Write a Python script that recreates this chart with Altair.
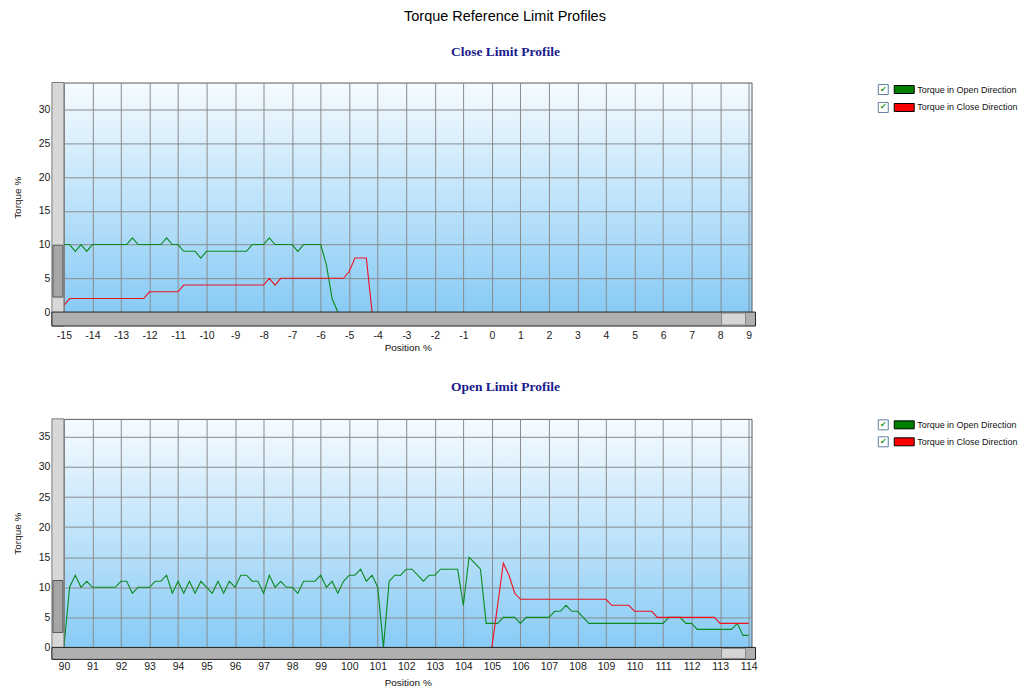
import altair as alt
import pandas as pd

# ---------------- data ----------------
series_names = ["Torque in Open Direction", "Torque in Close Direction"]
series_colors = ["#0a8a1e", "#f01020"]
swatch_colors = ["#008000", "#ff0000"]

# Close Limit Profile (positions sampled every 0.2 %)
close_open_start = -15.0
close_open_torque = [10, 10, 9, 10, 9, 10, 10, 10, 10, 10, 10, 10, 11, 10, 10, 10, 10, 10,
                     11, 10, 10, 9, 9, 9, 8, 9, 9, 9, 9, 9, 9, 9, 9, 10, 10, 10, 11, 10,
                     10, 10, 10, 9, 10, 10, 10, 10, 7, 2, 0]
close_close_start = -15.0
close_close_torque = [1, 2, 2, 2, 2, 2, 2, 2, 2, 2, 2, 2, 2, 2, 2, 3, 3, 3, 3, 3, 3,
                      4, 4, 4, 4, 4, 4, 4, 4, 4, 4, 4, 4, 4, 4, 4, 5, 4,
                      5, 5, 5, 5, 5, 5, 5, 5, 5, 5, 5, 5, 6, 8, 8, 8, 0]
close_xticks = list(range(-15, 10))
close_yticks = [0, 5, 10, 15, 20, 25, 30]

# Open Limit Profile
open_open_start = 90.0
open_open_torque = [0, 10, 12, 10, 11, 10, 10, 10, 10, 10, 11, 11, 9, 10, 10, 10, 11, 11, 12, 9,
                    11, 9, 11, 9, 11, 10, 9, 11, 9, 11, 10, 12, 12, 11, 11, 9, 12, 10, 11, 10,
                    10, 9, 11, 11, 11, 12, 10, 11, 9, 11, 12, 12, 13, 11, 12, 10, 0, 11, 12, 12,
                    13, 13, 12, 11, 12, 12, 13, 13, 13, 13, 7, 15, 14, 13, 4, 4, 4, 5, 5, 5,
                    4, 5, 5, 5, 5, 5, 6, 6, 7, 6, 6, 5, 4, 4, 4, 4, 4, 4, 4, 4, 4, 4, 4, 4, 4, 4,
                    5, 5, 5, 4, 4, 3, 3, 3, 3, 3, 3, 3, 4, 2, 2]
open_close_start = 105.0
open_close_torque = [0, 7, 14, 12, 9,
                     8, 8, 8, 8, 8, 8, 8, 8, 8, 8, 8, 8, 8, 8, 8, 8,
                     7, 7, 7, 7, 6, 6, 6, 6,
                     5, 5, 5, 5, 5, 5, 5, 5, 5, 5, 5,
                     4, 4, 4, 4, 4, 4]
open_xticks = list(range(90, 115))
open_yticks = [0, 5, 10, 15, 20, 25, 30, 35]

STEP = 0.2
W = 689

GRAD = ("{gradient: 'linear', x1: 0, y1: 0, x2: 0, y2: 1, "
        "stops: [{offset: 0, color: '#f6fbff'}, {offset: 1, color: '#88cbf5'}]}")


def series_frame(start, values, name):
    return pd.DataFrame({
        "position": [round(start + STEP * i, 1) for i in range(len(values))],
        "torque": values,
        "series": name,
    })


def profile(title, x_domain, y_max, xticks, yticks, open_start, open_vals, close_start, close_vals,
            H, bar_h, label_pad, title_pad, legend_rows):
    df = pd.concat([series_frame(open_start, open_vals, series_names[0]),
                    series_frame(close_start, close_vals, series_names[1])])
    x = alt.X("position:Q",
              scale=alt.Scale(domain=x_domain, nice=False, zero=False),
              axis=alt.Axis(values=xticks, labelExpr="datum.value + ''", title="Position %",
                            labelFlush=False, labelPadding=label_pad, titlePadding=title_pad, grid=True))
    y = alt.Y("torque:Q",
              scale=alt.Scale(domain=[0, y_max], nice=False),
              axis=alt.Axis(values=yticks, labelExpr="datum.value + ''", title="Torque %",
                            labelFlush=False, labelPadding=14, titlePadding=16, grid=True))
    lines = alt.Chart(df).mark_line(strokeWidth=1.1, clip=True).encode(
        x=x, y=y,
        color=alt.Color("series:N", scale=alt.Scale(domain=series_names, range=series_colors), legend=None),
    )

    one = pd.DataFrame({"k": [0]})
    left_bar = alt.Chart(one).mark_rect(fill="#d8d8d8", stroke="#7a7a7a", strokeWidth=1).encode(
        x=alt.value(-12), x2=alt.value(0), y=alt.value(0), y2=alt.value(H + bar_h))
    left_thumb = alt.Chart(one).mark_rect(fill="#a6a6a6", stroke="#555555", strokeWidth=1).encode(
        x=alt.value(-11), x2=alt.value(-1), y=alt.value(H - 67), y2=alt.value(H - 15))
    bottom_bar = alt.Chart(one).mark_rect(fill="#b0b0b0", stroke="#222222", strokeWidth=1).encode(
        x=alt.value(-12), x2=alt.value(W + 4), y=alt.value(H), y2=alt.value(H + bar_h))
    bottom_thumb = alt.Chart(one).mark_rect(fill="#d6d6d6", stroke="#888888", strokeWidth=1).encode(
        x=alt.value(W - 30), x2=alt.value(W - 6), y=alt.value(H + 1), y2=alt.value(H + bar_h - 1))

    leg = pd.DataFrame({"name": series_names, "swatch": swatch_colors})
    ly = alt.Y("name:N", scale=alt.Scale(domain=series_names, range=legend_rows, padding=0), axis=None)
    box = alt.Chart(leg).mark_square(size=100, filled=True, color="white", stroke="#5f7f9f",
                                     strokeWidth=1, opacity=1).encode(x=alt.value(821), y=ly)
    tick = alt.Chart(leg).mark_text(text="✔", color="#2e9a2e", fontSize=8, font="DejaVu Sans").encode(
        x=alt.value(821), y=ly)
    swatch = alt.Chart(leg).mark_point(shape="M-1,-0.4L1,-0.4L1,0.4L-1,0.4Z", size=400, filled=True,
                                       stroke="#000000", strokeWidth=1, opacity=1).encode(
        x=alt.value(842), y=ly, fill=alt.Fill("swatch:N", scale=None))
    label = alt.Chart(leg).mark_text(align="left", baseline="middle", fontSize=9,
                                     font="Liberation Sans", color="#111111").encode(
        x=alt.value(855), y=ly, text="name:N")

    return alt.layer(lines, left_bar, left_thumb, bottom_bar, bottom_thumb,
                     box, tick, swatch, label).resolve_scale(y="independent").properties(
        width=W, height=H,
        title=alt.TitleParams(title, font="Liberation Serif", fontWeight="bold", fontSize=13.5,
                              color="#1a1a8c", anchor="middle", frame="group", dx=98, offset=24),
    )


top = profile("Close Limit Profile", [-15, 9.1], 34, close_xticks, close_yticks,
              close_open_start, close_open_torque, close_close_start, close_close_torque,
              230, 14, 18, 2, [7, 25])
bottom = profile("Open Limit Profile", [90, 114.1], 38, open_xticks, open_yticks,
                 open_open_start, open_open_torque, open_close_start, open_close_torque,
                 229, 12, 14, 6, [6, 23])

chart = alt.vconcat(top, bottom, spacing=27).properties(
    title=alt.TitleParams("Torque Reference Limit Profiles", font="Liberation Sans", fontSize=14.5,
                          fontWeight="normal", color="#000000", anchor="middle", offset=20, dx=-10),
    padding={"left": 3, "top": 0, "right": 0, "bottom": 0},
    background="white",
).configure_view(
    fill={"expr": GRAD}, stroke="#5a5a5a", strokeWidth=1,
).configure_axis(
    gridColor="#8c8c8c", gridWidth=1, gridOpacity=1, domain=False, ticks=False,
    labelFont="Liberation Sans", labelFontSize=10.5, labelColor="#1a1a1a",
    titleFont="Liberation Sans", titleFontSize=10, titleFontWeight="normal", titleColor="#111111",
)

chart.save("out.html", embed_options={"renderer": "svg", "actions": False})
